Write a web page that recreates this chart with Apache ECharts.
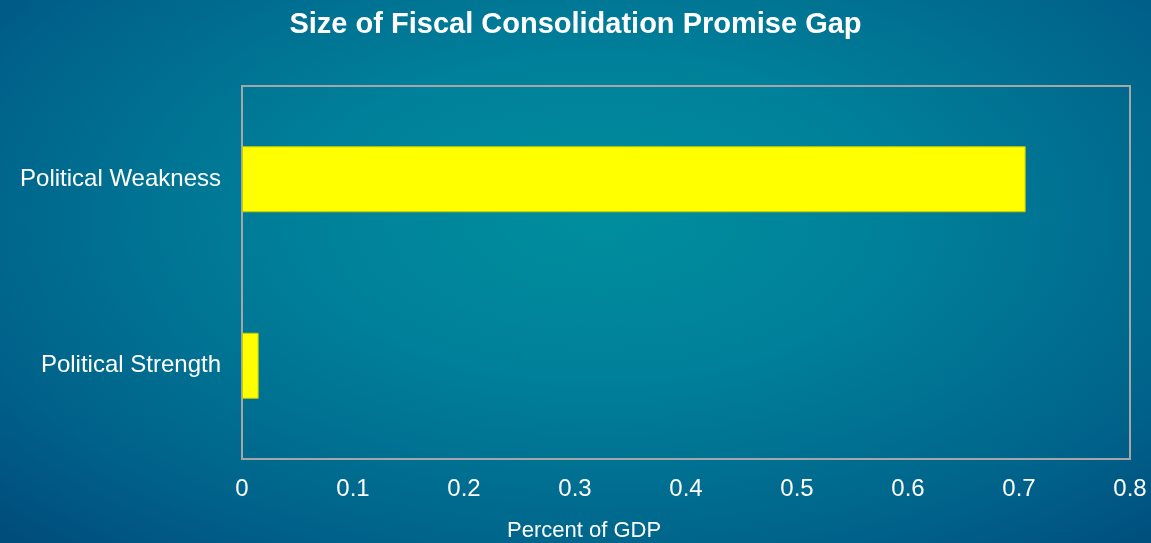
<!DOCTYPE html>
<html>
<head>
<meta charset="utf-8">
<script src="https://cdn.jsdelivr.net/npm/echarts@6/dist/echarts.min.js"></script>
<style>
  html, body { margin: 0; padding: 0; width: 1151px; height: 543px; overflow: hidden; }
  body { background: radial-gradient(ellipse 75% 85% at 52% 40%, #008e9e 0%, #00809a 35%, #00628a 75%, #004a7a 100%); }
  #chart { width: 1151px; height: 543px; }
</style>
</head>
<body>
<div id="chart"></div>
<script>
// Categories listed bottom-to-top as drawn on the category axis
const categories = ['Political Strength', 'Political Weakness'];
const gapValues = [0.015, 0.706];
const xTicks = { min: 0, max: 0.8, interval: 0.1 };

const FONT = 'Liberation Sans, Arial, sans-serif';
const chart = echarts.init(document.getElementById('chart'));
chart.setOption({
  backgroundColor: 'transparent',
  animation: false,
  textStyle: { fontFamily: FONT },
  title: {
    text: 'Size of Fiscal Consolidation Promise Gap',
    left: 'center',
    top: 5,
    textStyle: { color: '#ffffff', fontSize: 29, fontWeight: 'bold', fontFamily: FONT }
  },
  grid: {
    left: 242, right: 21, top: 86, bottom: 84,
    show: true, borderColor: '#a6a6a6', borderWidth: 2, backgroundColor: 'transparent'
  },
  xAxis: {
    type: 'value',
    min: xTicks.min, max: xTicks.max, interval: xTicks.interval,
    axisLine: { show: false },
    axisTick: { show: false },
    splitLine: { show: false },
    axisLabel: {
      color: '#ffffff', fontSize: 24, margin: 18,
      formatter: v => String(Math.round(v * 10) / 10)
    }
  },
  yAxis: {
    type: 'category',
    data: categories,
    axisLine: { show: false },
    axisTick: { show: false },
    axisLabel: { color: '#ffffff', fontSize: 24, margin: 21 }
  },
  graphic: [{
    type: 'text',
    left: 507, top: 520,
    style: { text: 'Percent of GDP', fill: '#ffffff', fontSize: 22, fontFamily: FONT }
  }],
  series: [{
    type: 'bar',
    data: gapValues,
    barWidth: 66,
    itemStyle: { color: '#ffff00', borderColor: '#c8c800', borderWidth: 1 }
  }]
});
</script>
</body>
</html>
